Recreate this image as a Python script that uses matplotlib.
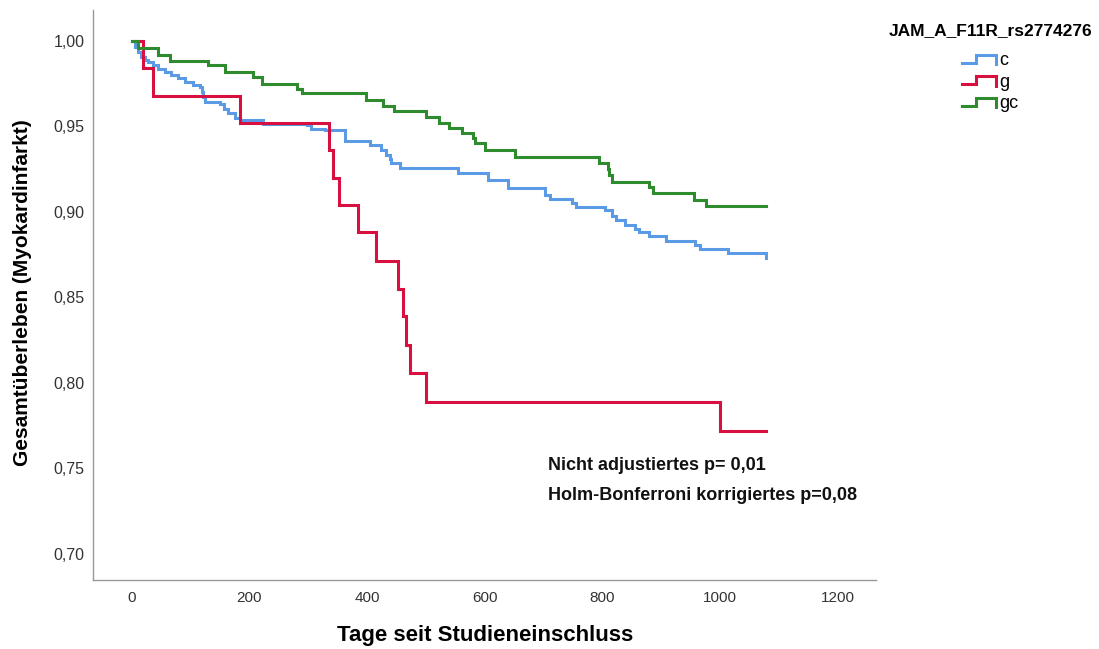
import matplotlib
matplotlib.use("Agg")
import matplotlib.pyplot as plt
from matplotlib.legend_handler import HandlerBase
from matplotlib.lines import Line2D
from matplotlib.ticker import FuncFormatter, FixedLocator

# Kaplan-Meier step values per genotype (day of event, survival after event)
days_c = [0, 5, 11, 15, 22, 28, 36, 45, 56, 67, 79, 90, 104, 116, 119, 121, 124,
          150, 156, 164, 175, 184, 223, 297, 305, 328, 362, 405, 424, 433, 439,
          441, 456, 555, 606, 640, 702, 711, 748, 756, 804, 816, 824, 838, 855,
          863, 880, 909, 957, 966, 1013, 1079]
surv_c = [1.0, 0.9965, 0.9936, 0.9906, 0.9887, 0.9877, 0.9858, 0.9838, 0.9819,
          0.980, 0.978, 0.976, 0.974, 0.973, 0.970, 0.967, 0.9643, 0.9633, 0.960,
          0.9575, 0.9546, 0.9536, 0.9516, 0.9507, 0.9487, 0.948, 0.9415, 0.939,
          0.936, 0.933, 0.931, 0.9285, 0.9255, 0.9226, 0.9187, 0.914, 0.910,
          0.9075, 0.905, 0.903, 0.9008, 0.8973, 0.8953, 0.8924, 0.890, 0.8885,
          0.8856, 0.8832, 0.8806, 0.878, 0.8758, 0.873]

days_g = [0, 19, 36, 184, 335, 342, 352, 384, 416, 452, 461, 466, 473, 500,
          1000, 1079]
surv_g = [1.0, 0.984, 0.968, 0.952, 0.936, 0.920, 0.904, 0.888, 0.871, 0.855,
          0.839, 0.822, 0.806, 0.789, 0.772, 0.772]

days_gc = [0, 10, 44, 65, 129, 158, 206, 221, 280, 289, 398, 427, 445, 501, 522,
           539, 561, 580, 583, 600, 651, 794, 809, 812, 816, 880, 886, 955, 976,
           1079]
surv_gc = [1.0, 0.9955, 0.9916, 0.9881, 0.9858, 0.9819, 0.9789, 0.975, 0.9721,
           0.9692, 0.9655, 0.962, 0.9587, 0.9557, 0.9522, 0.949, 0.946, 0.943,
           0.940, 0.936, 0.932, 0.9285, 0.925, 0.9216, 0.9177, 0.9148, 0.9113,
           0.907, 0.9035, 0.9035]

group_labels = ["c", "g", "gc"]
legend_title = "JAM_A_F11R_rs2774276"
x_ticks = [0, 200, 400, 600, 800, 1000, 1200]
y_ticks = [0.70, 0.75, 0.80, 0.85, 0.90, 0.95, 1.00]
x_label = "Tage seit Studieneinschluss"
y_label = "Gesamtüberleben (Myokardinfarkt)"
p_texts = ["Nicht adjustiertes p= 0,01", "Holm-Bonferroni korrigiertes p=0,08"]

colors = ["#5b9be6", "#d8103f", "#2e8b2e"]

plt.rcParams["font.family"] = ["Liberation Sans", "DejaVu Sans"]

fig = plt.figure(figsize=(10.99, 6.49), dpi=100)
ax = fig.add_axes([0.0846, 0.1063, 0.7124, 0.8783])

series = [(days_c, surv_c), (days_g, surv_g), (days_gc, surv_gc)]
handles = []
for (d, s), col, lab in zip(series, colors, group_labels):
    h, = ax.step(d, s, where="post", color=col, lw=2.2, label=lab,
                 solid_joinstyle="miter")
    handles.append(h)

ax.set_xlim(-66, 1265)
ax.set_ylim(0.6848, 1.018)
ax.xaxis.set_major_locator(FixedLocator(x_ticks))
ax.yaxis.set_major_locator(FixedLocator(y_ticks))
ax.yaxis.set_major_formatter(FuncFormatter(lambda v, p: f"{v:.2f}".replace(".", ",")))
ax.tick_params(length=0, labelsize=11, labelcolor="#333333")
ax.tick_params(axis="x", pad=8)
ax.tick_params(axis="y", pad=6, labelsize=11.5)

for side in ("top", "right"):
    ax.spines[side].set_visible(False)
for side in ("left", "bottom"):
    ax.spines[side].set_color("#999999")
    ax.spines[side].set_linewidth(1.0)

ax.set_xlabel(x_label, fontsize=16, fontweight="bold")
ax.xaxis.set_label_coords(0.5006, -0.079)
ax.set_ylabel(y_label, fontsize=15, fontweight="bold")
ax.yaxis.set_label_coords(-0.078, 0.505)

ax.text(707, 0.7515, p_texts[0], fontsize=13, fontweight="bold", va="center",
        color="#111111")
ax.text(707, 0.7340, p_texts[1], fontsize=13, fontweight="bold", va="center",
        color="#111111")


class StepHandler(HandlerBase):
    """Draws the legend key as a small step shape."""

    def create_artists(self, legend, orig_handle, xdescent, ydescent, width,
                       height, fontsize, trans):
        x0, y0 = -xdescent, -ydescent
        lo, hi = y0 + 0.2 * height, y0 + 0.85 * height
        xs = [x0, x0 + 0.42 * width, x0 + 0.42 * width, x0 + width, x0 + width]
        ys = [lo, lo, hi, hi, lo - 0.1 * height]
        ln = Line2D(xs, ys, color=orig_handle.get_color(), lw=2.2,
                    solid_joinstyle="miter", transform=trans)
        return [ln]


leg = fig.legend(handles=handles, labels=group_labels, title=legend_title,
                 handler_map={h: StepHandler() for h in handles},
                 loc="upper center", bbox_to_anchor=(0.901, 0.99),
                 frameon=False, fontsize=13, handlelength=1.9, handletextpad=0.2,
                 labelspacing=0.25,
                 title_fontproperties={"weight": "bold", "size": 12.5})
leg._legend_box.align = "center"
leg._legend_box.sep = 10.5

fig.savefig("out.png", dpi=100)
